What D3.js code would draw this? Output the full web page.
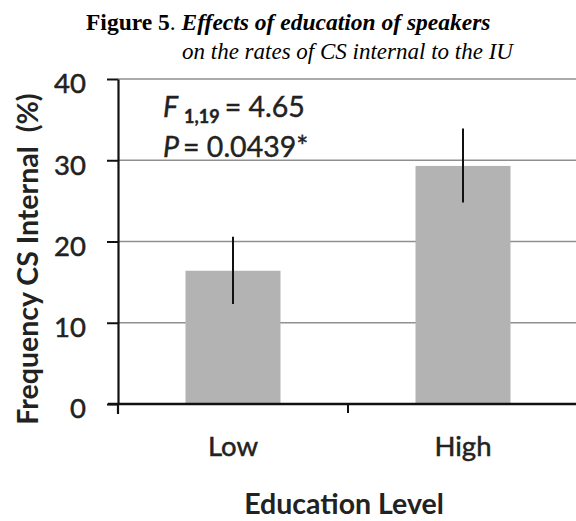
<!DOCTYPE html>
<html>
<head>
<meta charset="utf-8">
<script src="https://cdn.jsdelivr.net/npm/d3@7"></script>
<style>
  html, body { margin: 0; padding: 0; background: #fff; }
  svg { display: block; }
</style>
</head>
<body>
<svg id="chart" width="576" height="521"></svg>
<script>
// Education level groups and mean frequency of CS internal to the IU (%)
const categories = ["Low", "High"];
const means = [16.4, 29.3];
const errLow = [12.3, 24.8];
const errHigh = [20.6, 33.9];
const yTicks = [0, 10, 20, 30, 40];

const svg = d3.select("#chart");
const sans = "Lato, 'Open Sans', sans-serif";
const serif = "'Liberation Serif', 'Times New Roman', serif";
const ink = "#222";

const x = d3.scaleBand()
  .domain(categories)
  .range([118, 578])
  .paddingInner(0.587)
  .paddingOuter(0.2935);

const y = d3.scaleLinear().domain([0, 40]).range([404, 79]);

// Horizontal gridlines
svg.append("g")
  .selectAll("line")
  .data(yTicks.filter(d => d > 0))
  .join("line")
  .attr("x1", 118).attr("x2", 576)
  .attr("y1", d => y(d)).attr("y2", d => y(d))
  .attr("stroke", "#8f8f8f")
  .attr("stroke-width", 1.6);

// Bars
svg.append("g")
  .selectAll("rect")
  .data(categories)
  .join("rect")
  .attr("x", d => x(d))
  .attr("width", x.bandwidth())
  .attr("y", (d, i) => y(means[i]))
  .attr("height", (d, i) => y(0) - y(means[i]))
  .attr("fill", "#b3b3b3");

// Error bars
svg.append("g")
  .selectAll("line")
  .data(categories)
  .join("line")
  .attr("x1", d => x(d) + x.bandwidth() / 2)
  .attr("x2", d => x(d) + x.bandwidth() / 2)
  .attr("y1", (d, i) => y(errLow[i]))
  .attr("y2", (d, i) => y(errHigh[i]))
  .attr("stroke", "#111")
  .attr("stroke-width", 2);

// Y axis
const yAxis = svg.append("g")
  .attr("transform", "translate(118,0)")
  .call(d3.axisLeft(y).tickValues(yTicks).tickSize(11).tickPadding(21).tickSizeOuter(0));
yAxis.select(".domain").attr("stroke", "#111").attr("stroke-width", 2.2);
yAxis.selectAll(".tick line").attr("stroke", "#111").attr("stroke-width", 2);
yAxis.selectAll(".tick text")
  .attr("font-family", sans).attr("font-size", 27.5).attr("fill", ink)
  .attr("stroke", ink).attr("stroke-width", 0.5)
  .attr("dy", "0.5em");

// Y axis continues a little below the baseline
svg.append("line")
  .attr("x1", 118).attr("x2", 118)
  .attr("y1", y(0)).attr("y2", y(0) + 10)
  .attr("stroke", "#111").attr("stroke-width", 2.2);

// X axis with ticks at category boundaries
const boundaries = [x.range()[0], ...categories.slice(1).map(c => x(c) - x.step() * x.paddingInner() / 2)];
svg.append("line")
  .attr("x1", 108).attr("x2", 576)
  .attr("y1", y(0)).attr("y2", y(0))
  .attr("stroke", "#111").attr("stroke-width", 2.4);
svg.append("g")
  .selectAll("line")
  .data(boundaries.slice(1))
  .join("line")
  .attr("x1", d => d).attr("x2", d => d)
  .attr("y1", y(0)).attr("y2", y(0) + 9)
  .attr("stroke", "#111").attr("stroke-width", 2);

// Category labels
svg.append("g")
  .selectAll("text")
  .data(categories)
  .join("text")
  .attr("x", d => x(d) + x.bandwidth() / 2)
  .attr("y", 456)
  .attr("text-anchor", "middle")
  .attr("font-family", sans).attr("font-size", 27.5).attr("fill", ink)
  .attr("stroke", ink).attr("stroke-width", 0.5)
  .text(d => d);

// Axis titles
svg.append("text")
  .attr("x", 344).attr("y", 514)
  .attr("text-anchor", "middle")
  .attr("font-family", sans).attr("font-size", 28.5).attr("font-weight", "bold").attr("fill", ink)
  .text("Education Level");

svg.append("text")
  .attr("transform", "translate(38,259) rotate(-90)")
  .attr("text-anchor", "middle")
  .attr("font-family", sans).attr("font-size", 28.5).attr("font-weight", "bold").attr("fill", ink)
  .attr("xml:space", "preserve")
  .text("Frequency CS Internal  (%)");

// Test statistics
const stat1 = svg.append("text")
  .attr("x", 163).attr("y", 117)
  .attr("font-family", sans).attr("font-size", 28.5).attr("fill", ink)
  .attr("stroke", ink).attr("stroke-width", 0.4);
stat1.append("tspan").attr("font-style", "italic").text("F");
stat1.append("tspan").attr("font-size", 18).attr("font-weight", "bold").attr("dx", 6).attr("dy", 6).text("1,19");
stat1.append("tspan").attr("dx", 5).attr("dy", -6).text("= 4.65");

const stat2 = svg.append("text")
  .attr("x", 163).attr("y", 157)
  .attr("font-family", sans).attr("font-size", 28.5).attr("fill", ink)
  .attr("stroke", ink).attr("stroke-width", 0.4);
stat2.append("tspan").attr("font-style", "italic").text("P");
stat2.append("tspan").attr("dx", 4).text("= 0.0439*");

// Figure caption
const cap1 = svg.append("text")
  .attr("x", 86).attr("y", 30)
  .attr("font-family", serif).attr("font-size", 23.5).attr("font-weight", "bold").attr("fill", "#000");
cap1.append("tspan").text("Figure 5");
cap1.append("tspan").attr("font-weight", "normal").text(". ");
cap1.append("tspan").attr("font-style", "italic").text("Effects of education of speakers");

svg.append("text")
  .attr("x", 182).attr("y", 59)
  .attr("font-family", serif).attr("font-size", 23).attr("font-style", "italic").attr("fill", "#000")
  .text("on the rates of CS internal to the IU");
</script>
</body>
</html>
